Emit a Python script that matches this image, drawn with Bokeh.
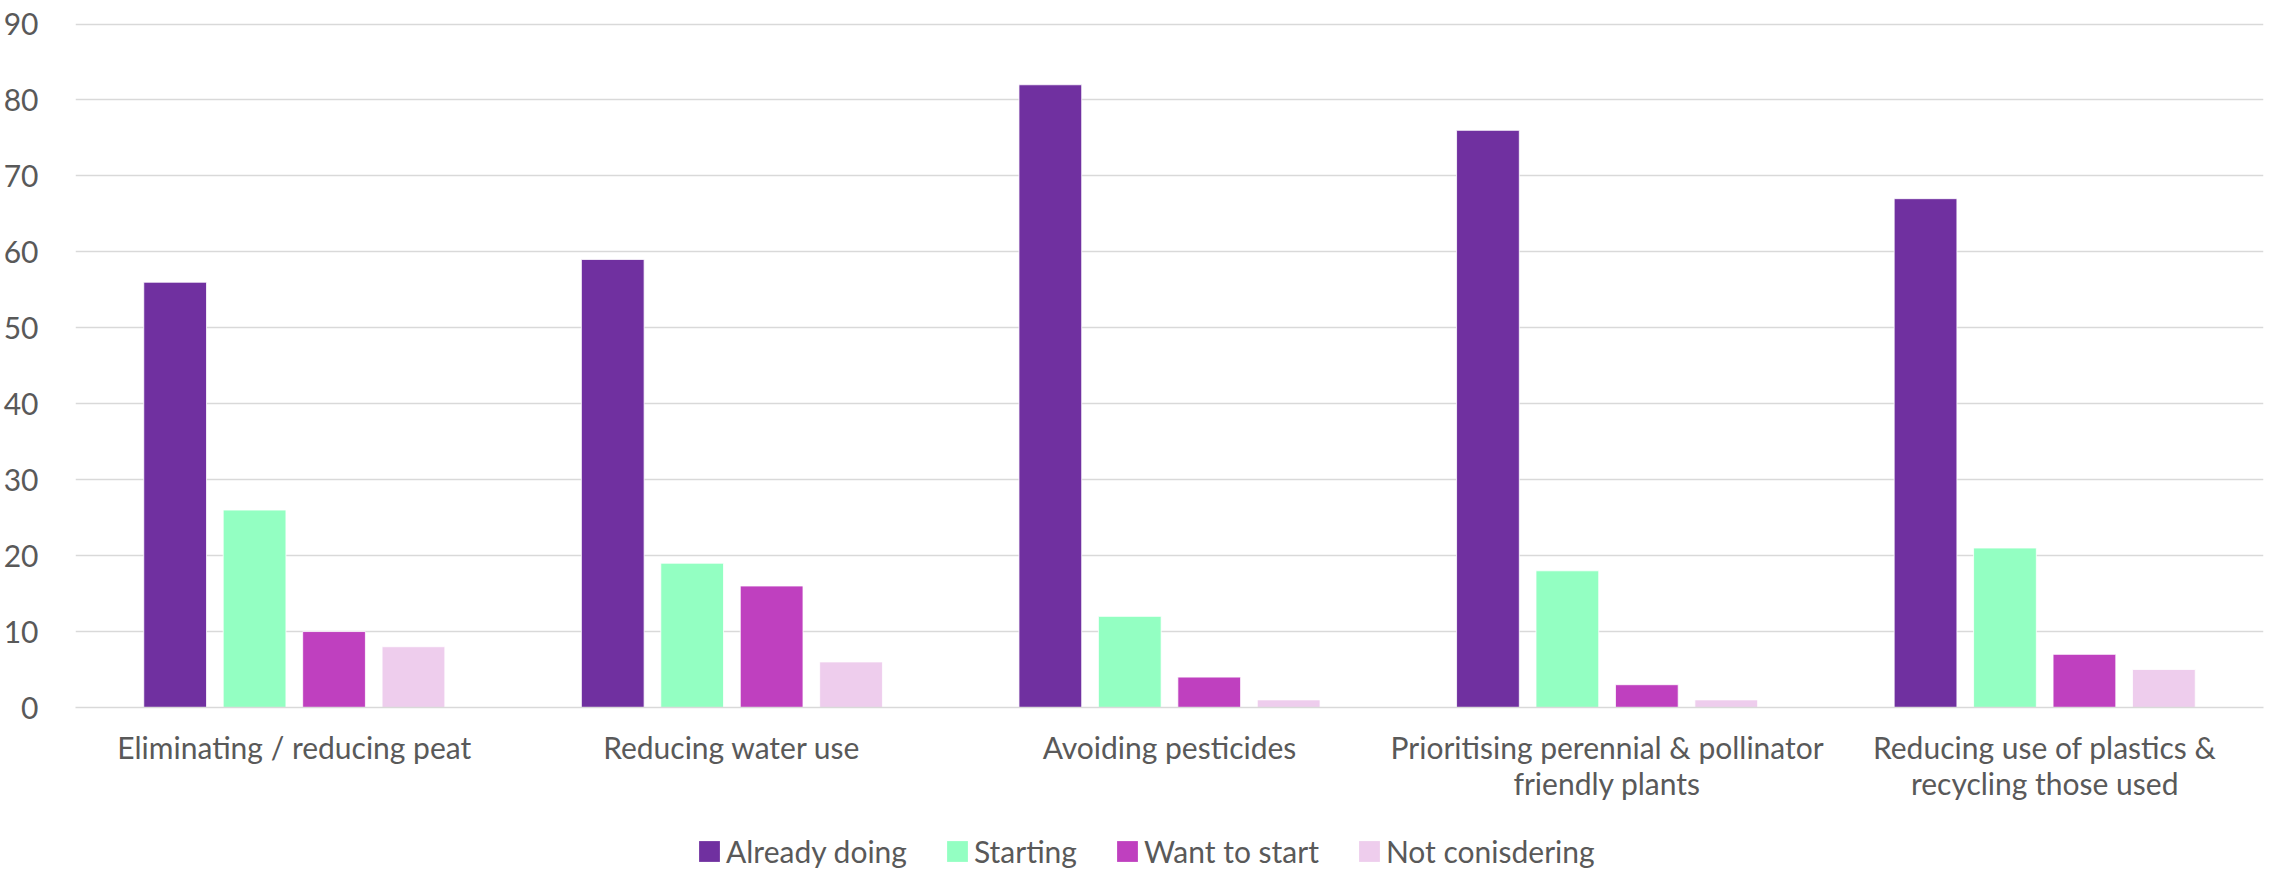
from bokeh.plotting import figure
from bokeh.models import (ColumnDataSource, Range1d, FactorRange, SingleIntervalTicker,
                          Legend, LegendItem)
from bokeh.layouts import column
from bokeh.transform import dodge
from bokeh.embed import file_html
from bokeh.resources import INLINE

categories = ["Eliminating / reducing peat", "Reducing water use", "Avoiding pesticides",
              "Prioritising perennial & pollinator\nfriendly plants",
              "Reducing use of plastics &\nrecycling those used"]
series_names = ["Already doing", "Starting", "Want to start", "Not conisdering"]
already_doing = [56, 59, 82, 76, 67]
starting = [26, 19, 12, 18, 21]
want_to_start = [10, 16, 4, 3, 7]
not_considering = [8, 6, 1, 1, 5]
colors = ["#7030A0", "#93FFC2", "#BF40BF", "#EECDED"]

FONT = "Lato"
TXT = "#595959"
GRID = "#D9D9D9"

src = ColumnDataSource(dict(cat=categories, a=already_doing, s=starting,
                            w=want_to_start, n=not_considering))

p = figure(width=2266, height=803, x_range=FactorRange(*categories, range_padding=0),
           y_range=Range1d(0, 90.2), output_backend="svg", toolbar_location=None,
           min_border_left=67, min_border_right=3, min_border_top=22, min_border_bottom=95)
p.x_range.range_padding = 0
p.outline_line_color = None

offsets = [-0.2723, -0.0908, 0.0908, 0.2723]
fields = ["a", "s", "w", "n"]
for off, f, c in zip(offsets, fields, colors):
    p.vbar(x=dodge("cat", off, range=p.x_range), top=f, width=0.1434, source=src,
           fill_color=c, line_color="white", line_width=0.8)

p.yaxis.ticker = SingleIntervalTicker(interval=10)
p.yaxis.axis_line_color = None
p.yaxis.major_tick_line_color = None
p.yaxis.minor_tick_line_color = None
p.yaxis.major_label_standoff = 31
p.yaxis.major_label_text_font = FONT
p.yaxis.major_label_text_font_size = "30px"
p.yaxis.major_label_text_color = TXT

p.xaxis.axis_line_color = GRID
p.xaxis.axis_line_width = 1.5
p.xaxis.major_tick_line_color = None
p.xaxis.minor_tick_line_color = None
p.xaxis.major_label_standoff = 15
p.xaxis.major_label_text_font = FONT
p.xaxis.major_label_text_font_size = "30px"
p.xaxis.major_label_text_color = TXT
p.xaxis.major_label_text_line_height = 1.0

p.xgrid.grid_line_color = None
p.ygrid.grid_line_color = GRID
p.ygrid.grid_line_width = 1.5
p.ygrid.ticker = SingleIntervalTicker(interval=10)

# legend strip below the chart
lf = figure(width=2266, height=66, x_range=FactorRange(*categories, range_padding=0),
            y_range=Range1d(0, 90), output_backend="svg", toolbar_location=None,
            x_axis_type=None, y_axis_type=None, min_border=0)
lf.outline_line_color = None
lf.xgrid.grid_line_color = None
lf.ygrid.grid_line_color = None
leg_renderers = []
for off, f, c in zip(offsets, fields, colors):
    r = lf.vbar(x=dodge("cat", off, range=lf.x_range), top=f, width=0.1434, source=src,
                fill_color=c, line_color=None, visible=False)
    leg_renderers.append(r)

legend = Legend(items=[LegendItem(label=n, renderers=[r]) for n, r in zip(series_names, leg_renderers)],
                orientation="horizontal", location=(621, 0))
legend.glyph_width = 26
legend.glyph_height = 26
legend.label_standoff = 4
legend.spacing = 37
legend.padding = 0
legend.margin = 0
legend.border_line_color = None
legend.background_fill_alpha = 0
legend.label_text_font = FONT
legend.label_text_font_size = "30px"
legend.label_text_color = TXT
lf.add_layout(legend, "center")

layout = column(p, lf, spacing=0)
open("out.html", "w").write(file_html(layout, INLINE))
